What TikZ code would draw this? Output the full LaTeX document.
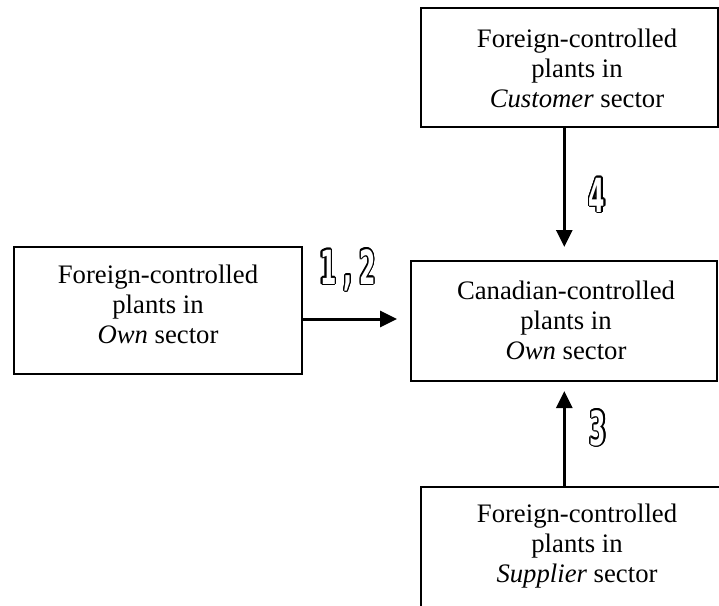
\documentclass[tikz,border=0pt]{standalone}
\usepackage{fontspec}
\setmainfont{Liberation Serif}
\newfontfamily\numfont[FakeStretch=0.5]{DejaVu Sans}
\usepackage{contour}
\contourlength{1.3pt}
\usetikzlibrary{arrows.meta,calc}
\tikzset{
  box/.style={draw=black, line width=2pt, inner sep=0pt, outer sep=0pt},
  lbl/.style={align=center, inner sep=0pt, font=\fontsize{26.7}{30}\selectfont},
  num/.style={inner sep=0pt, text=white, font=\numfont\bfseries\fontsize{47}{47}\selectfont},
  arr/.style={line width=3pt, -{Triangle[length=17pt,width=16pt]}}
}
\begin{document}
\begin{tikzpicture}[x=1pt,y=-1pt]
\useasboundingbox (0,0) rectangle (719,605);
\clip (0,0) rectangle (719,605);
\fill[white] (0,0) rectangle (719,605);
% boxes
\node[box, minimum width=297pt, minimum height=119pt] (cust) at (569.5,67.5) {};
\node[box, minimum width=288pt, minimum height=127pt] (own) at (158,310.5) {};
\node[box, minimum width=306pt, minimum height=120pt] (mid) at (564,321) {};
\node[box, minimum width=309pt, minimum height=133pt] (sup) at (575.5,553.5) {};
% texts (anchor base = baseline of the last line)
\node[lbl, anchor=base] (custtxt) at (577,107) {Foreign-controlled\\plants in\\\textit{Customer} sector};
\node[lbl, anchor=base] (owntxt) at (158,343) {Foreign-controlled\\plants in\\\textit{Own} sector};
\node[lbl, anchor=base] (midtxt) at (566,359) {Canadian-controlled\\plants in\\\textit{Own} sector};
\node[lbl, anchor=base] (suptxt) at (577,582) {Foreign-controlled\\plants in\\\textit{Supplier} sector};
% connectors
\coordinate (ay) at (0,319);
\coordinate (ax) at (564.3,0);
\draw[arr, shorten >=14pt] (own.east |- ay) -- (mid.west |- ay);
\draw[arr, shorten >=14pt] (cust.south -| ax) -- (mid.north -| ax);
\draw[arr, shorten >=10pt] (sup.north -| ax) -- (mid.south -| ax);
% numbers
\node[num, anchor=base] (n12) at (348,284) {\contour{black}{1\hspace{7pt},\hspace{7pt}2}};
\node[num, anchor=base] (n4) at (597,212) {\contour{black}{4}};
\node[num, anchor=base] (n3) at (598,445) {\contour{black}{3}};
\end{tikzpicture}
\end{document}
